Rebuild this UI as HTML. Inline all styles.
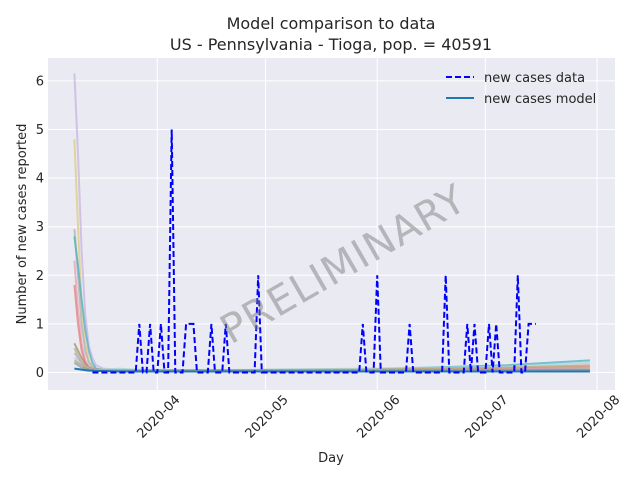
<!DOCTYPE html>
<html><head><meta charset="utf-8"><style>
html,body{margin:0;padding:0;background:#fff;}
svg{display:block;font-family:"DejaVu Sans","Liberation Sans",sans-serif;}
</style></head><body>
<svg id="chart" width="640" height="480" viewBox="0 0 640 480" xmlns="http://www.w3.org/2000/svg">
<rect x="0" y="0" width="640" height="480" fill="#fff"/>
<rect x="48" y="58" width="567" height="332" fill="#eaeaf2"/>
<g id="grid"></g>
<g id="models"></g>
<g id="datag"></g>
<g id="ticks" font-size="13" fill="#262626"></g>
<text x="331" y="29" font-size="16" text-anchor="middle" fill="#262626">Model comparison to data</text>
<text x="331" y="50" font-size="16" text-anchor="middle" fill="#262626">US - Pennsylvania - Tioga, pop. = 40591</text>
<text x="331" y="462" font-size="13" text-anchor="middle" fill="#262626">Day</text>
<text transform="translate(26,224) rotate(-90)" font-size="13" text-anchor="middle" fill="#262626">Number of new cases reported</text>
<text transform="translate(350,276) rotate(-30)" font-size="40" text-anchor="middle" fill="#808080" fill-opacity="0.5" letter-spacing="1">PRELIMINARY</text>
<g>
<line x1="446" y1="77" x2="474" y2="77" stroke="#0000ff" stroke-width="2" stroke-dasharray="6,3"/>
<text x="484" y="82" font-size="13" fill="#262626">new cases data</text>
<line x1="446" y1="98" x2="474" y2="98" stroke="#1f77b4" stroke-width="2"/>
<text x="484" y="103" font-size="13" fill="#262626">new cases model</text>
</g>
</svg>
<script>
// days counted from 2020-03-02
const dataDays = [12,13,14,15,16,17,18,19,20,21,22,23,24,25,26,27,28,29,30,31,32,33,34,35,36,37,38,39,40,41,42,43,44,45,46,47,48,49,50,51,52,53,54,55,56,57,58,59,60,84,85,86,87,88,89,90,91,92,93,94,95,96,97,98,99,100,101,102,103,104,105,106,107,108,109,110,111,112,113,114,115,116,117,118,119,120,121,122,123,124,125,126,127,128,129,130,131,132,133,134,135];
const dataValues = [0,0,0,0,0,0,0,0,0,0,0,0,0,1,0,0,1,0,0,1,0,0,5,0,0,0,1,1,1,0,0,0,0,1,0,0,0,1,0,0,0,0,0,0,0,0,2,0,0,0,0,0,1,0,0,0,2,0,0,0,0,0,0,0,0,1,0,0,0,0,0,0,0,0,0,2,0,0,0,0,0,1,0,1,0,0,0,1,0,1,0,0,0,0,0,2,0,0,1,1,1];
const modelDays = [7,8,9,10,11,12,13,15,19,27,47,87,127,150];
const modelColors = ["#c8b4e0","#dccc80","#b0b0b0","#4fb0c0","#e8a0b0","#e08080","#b08860","#90c090","#a0d8e0","#d0a0c0","#c0a070","#80a0a0"];
const modelSeries = [
 [6.15,4.5,2.5,1.2,0.55,0.3,0.15,0.08,0.06,0.05,0.04,0.03,0.03,0.04],
 [4.8,3.0,1.4,0.6,0.25,0.12,0.08,0.06,0.05,0.04,0.04,0.04,0.06,0.08],
 [2.95,2.0,1.0,0.45,0.2,0.1,0.07,0.05,0.04,0.04,0.03,0.03,0.03,0.03],
 [2.8,2.2,1.5,0.9,0.45,0.2,0.08,0.05,0.05,0.05,0.05,0.06,0.15,0.25],
 [2.3,1.3,0.6,0.25,0.12,0.08,0.06,0.05,0.04,0.04,0.03,0.03,0.04,0.05],
 [1.8,1.0,0.45,0.2,0.1,0.07,0.06,0.05,0.05,0.05,0.05,0.05,0.08,0.12],
 [0.6,0.45,0.3,0.18,0.1,0.07,0.05,0.05,0.04,0.04,0.04,0.04,0.05,0.05],
 [0.5,0.35,0.22,0.14,0.09,0.06,0.05,0.04,0.04,0.04,0.04,0.03,0.03,0.02],
 [0.3,0.25,0.18,0.12,0.08,0.06,0.05,0.05,0.08,0.05,0.05,0.08,0.12,0.2],
 [0.4,0.3,0.2,0.12,0.08,0.05,0.04,0.03,0.03,0.03,0.03,0.04,0.06,0.1],
 [0.25,0.2,0.15,0.1,0.07,0.05,0.04,0.04,0.04,0.04,0.05,0.06,0.1,0.15],
 [0.2,0.15,0.1,0.08,0.06,0.05,0.04,0.04,0.04,0.04,0.04,0.04,0.05,0.06]
];
const mainModel = [0.08,0.07,0.06,0.05,0.04,0.04,0.03,0.03,0.02,0.02,0.02,0.02,0.02,0.02];
const yTicks = [0,1,2,3,4,5,6];
const xTickDays = [30,60,91,121,152];
const xTickLabels = ["2020-04","2020-05","2020-06","2020-07","2020-08"];

const NS="http://www.w3.org/2000/svg";
const xs = d => 157.3 + (d-30)*3.605;
const ys = v => 372.5 - v*48.6;
function mk(tag, parent){const e=document.createElementNS(NS,tag);document.getElementById(parent).appendChild(e);return e;}
function pts(days, vals){return days.map((d,i)=>xs(d).toFixed(1)+","+ys(vals[i]).toFixed(1)).join(" ");}

yTicks.forEach(v=>{
  const l=mk("line","grid");
  
  
  l.setAttribute("x1",48);l.setAttribute("x2",615);l.setAttribute("y1",ys(v));l.setAttribute("y2",ys(v));
  l.setAttribute("stroke","#fff");l.setAttribute("stroke-width","1");
  const t=mk("text","ticks");
  
  
  t.setAttribute("x",44);t.setAttribute("y",ys(v)+4.5);t.setAttribute("text-anchor","end");t.textContent=v;
});
xTickDays.forEach((d,i)=>{
  const l=mk("line","grid");
  
  
  l.setAttribute("x1",xs(d));l.setAttribute("x2",xs(d));l.setAttribute("y1",58);l.setAttribute("y2",390);
  l.setAttribute("stroke","#fff");l.setAttribute("stroke-width","1");
  const t=mk("text","ticks");
  
  
  const x=xs(d)+17,y=394;
  t.setAttribute("transform","translate("+x+","+y+") rotate(-45)");
  t.setAttribute("text-anchor","end");t.setAttribute("dy","9");t.textContent=xTickLabels[i];
});
modelSeries.forEach((s,i)=>{
  const p=mk("polyline","models");
  
  
  p.setAttribute("points",pts(modelDays,s));p.setAttribute("fill","none");
  p.setAttribute("stroke",modelColors[i]);p.setAttribute("stroke-width","2");p.setAttribute("stroke-opacity","0.75");
});
const mm=mk("polyline","models");


mm.setAttribute("points",pts(modelDays,mainModel));mm.setAttribute("fill","none");
mm.setAttribute("stroke","#1f77b4");mm.setAttribute("stroke-width","2");
const dl=mk("polyline","datag");


dl.setAttribute("points",pts(dataDays,dataValues));dl.setAttribute("fill","none");
dl.setAttribute("stroke","#0000ff");dl.setAttribute("stroke-width","2");dl.setAttribute("stroke-dasharray","6,3");
</script>
</body></html>
